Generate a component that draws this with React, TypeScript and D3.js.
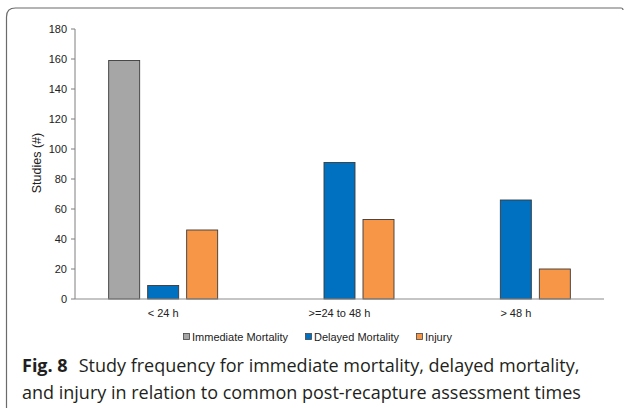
import React from "react";
import * as d3 from "d3";

const categories = ["< 24 h", ">=24 to 48 h", "> 48 h"];
const seriesNames = ["Immediate Mortality", "Delayed Mortality", "Injury"];
const immediateMortality = [159, 0, 0];
const delayedMortality = [9, 91, 66];
const injury = [46, 53, 20];
const yTicks = [0, 20, 40, 60, 80, 100, 120, 140, 160, 180];
const colors = ["#A6A6A6", "#0070C0", "#F79646"];

const seriesValues = [immediateMortality, delayedMortality, injury];

export default function App() {
  const W = 624;
  const H = 408;
  const x = d3.scaleBand<string>().domain(categories).range([75, 604]).padding(0);
  const inner = d3
    .scaleBand<string>()
    .domain(seriesNames)
    .range([0, 117])
    .paddingInner(8 / 39)
    .paddingOuter(4 / 39);
  const y = d3.scaleLinear().domain([0, 180]).range([299, 29]);
  const axisFont = "'Liberation Sans', Arial, sans-serif";
  const capFont = "'Open Sans', 'Noto Sans', sans-serif";

  const legendItems = [
    { name: seriesNames[0], x: 183 },
    { name: seriesNames[1], x: 305 },
    { name: seriesNames[2], x: 416 },
  ];

  return (
    <svg
      width={W}
      height={H}
      style={{ position: "absolute", left: 0, top: 0, background: "#fff" }}
    >
      {/* frame */}
      <path
        d="M6.5,408 L6.5,17 Q6.5,8 15.5,8 L621,8 Q623,8 623,10"
        fill="none"
        stroke="#6b6b6b"
        strokeWidth={1.2}
      />
      {/* bars */}
      {categories.map((c, ci) => {
        const cx = (x(c) as number) + x.bandwidth() / 2 - 58.5;
        return seriesNames.map((s, si) => {
          const v = seriesValues[si][ci];
          if (!v) return null;
          return (
            <rect
              key={c + s}
              x={cx + (inner(s) as number)}
              y={y(v)}
              width={inner.bandwidth()}
              height={y(0) - y(v)}
              fill={colors[si]}
              stroke="#3a3a3a"
              strokeWidth={0.9}
            />
          );
        });
      })}
      {/* y axis */}
      <line x1={75} x2={75} y1={y(180)} y2={y(0)} stroke="#7f7f7f" strokeWidth={1} />
      {yTicks.map((t) => (
        <g key={t}>
          <line x1={71} x2={75} y1={y(t)} y2={y(t)} stroke="#7f7f7f" strokeWidth={1} />
          <text
            x={67}
            y={y(t)}
            dy="0.35em"
            textAnchor="end"
            fontFamily={axisFont}
            fontSize={11}
            fill="#222"
          >
            {t}
          </text>
        </g>
      ))}
      {/* x axis */}
      <line x1={75} x2={604} y1={y(0)} y2={y(0)} stroke="#8c8c8c" strokeWidth={1.2} />
      {categories.map((c) => (
        <text
          key={c}
          x={(x(c) as number) + x.bandwidth() / 2}
          y={317}
          textAnchor="middle"
          fontFamily={axisFont}
          fontSize={11}
          fill="#222"
        >
          {c}
        </text>
      ))}
      {/* y title */}
      <text
        transform="translate(41,163) rotate(-90)"
        textAnchor="middle"
        fontFamily={axisFont}
        fontSize={12.5}
        fill="#222"
      >
        Studies (#)
      </text>
      {/* legend */}
      {legendItems.map((l, i) => (
        <g key={l.name}>
          <rect
            x={l.x + 0.5}
            y={333.5}
            width={6}
            height={6}
            fill={colors[i]}
            stroke="#444"
            strokeWidth={0.8}
          />
          <text x={l.x + 9} y={341} fontFamily={axisFont} fontSize={11} fill="#222">
            {l.name}
          </text>
        </g>
      ))}
      {/* caption */}
      <text x={22} y={372} fontFamily={capFont} fontSize={18} fill="#231f20">
        <tspan fontWeight="bold">Fig. 8</tspan>
        <tspan dx={11}>Study frequency for immediate mortality, delayed mortality,</tspan>
      </text>
      <text x={22} y={399} fontFamily={capFont} fontSize={18} fill="#231f20">
        and injury in relation to common post-recapture assessment times
      </text>
    </svg>
  );
}
